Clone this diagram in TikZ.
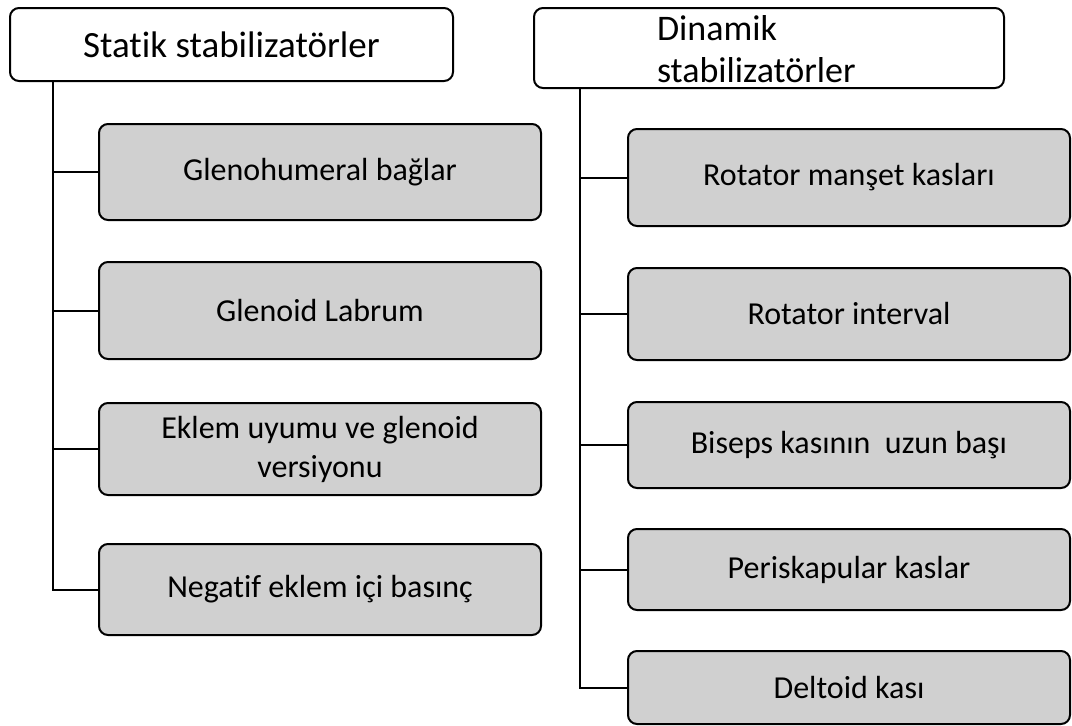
\documentclass[tikz,border=0pt]{standalone}
\usepackage{fontspec}
\setmainfont{Carlito}[Ligatures={NoCommon,NoContextual}]
\usetikzlibrary{positioning}

\definecolor{boxgray}{RGB}{208,208,208}

\begin{document}
\begin{tikzpicture}[x=1pt, y=-1pt, line width=2pt,
    headbox/.style={draw, rounded corners=9pt, fill=white, inner sep=0pt,
      font=\fontsize{37}{44}\selectfont},
    itembox/.style={draw, rounded corners=9pt, fill=boxgray, inner sep=0pt,
      align=center, minimum width=442pt, font=\fontsize{32}{39}\selectfont}]

        \useasboundingbox (0,0) rectangle (1072,726);

        % Headers
        \node[headbox, minimum width=443pt, minimum height=73pt] (statik) at (231.5,44.5) {Statik stabilizatörler};
        \node[headbox, minimum width=470pt, minimum height=80pt] (dinamik) at (769,48) {};
        \node[anchor=west, align=left, inner sep=0pt, font=\fontsize{36}{42}\selectfont] (dinamiktxt) at (656,49) {Dinamik\\stabilizatörler};

        % Static items
        \node[itembox, minimum height=96pt] (gleno) at (320,172) {Glenohumeral bağlar};
        \node[itembox, minimum height=97pt] (labrum) at (320,310.5) {Glenoid Labrum};
        \node[itembox, minimum height=92pt] (eklem) at (320,449) {Eklem uyumu ve glenoid\\versiyonu};
        \node[itembox, minimum height=91pt] (negatif) at (320,589.5) {Negatif eklem içi basınç};

        % Dynamic items
        \node[itembox, minimum height=97pt] (rotator) at (849,177.5) {Rotator manşet kasları};
        \node[itembox, minimum height=92pt] (interval) at (849,314) {Rotator interval};
        \node[itembox, minimum height=86pt] (biseps) at (849,445) {Biseps kasının\ \ uzun başı};
        \node[itembox, minimum height=81pt] (periskap) at (849,569.5) {Periskapular kaslar};
        \node[itembox, minimum height=73pt] (deltoid) at (849,687.5) {Deltoid kası};

        % Lines from headers to items
        \draw ([xshift=44pt]statik.south west) |- (gleno.west);
        \draw ([xshift=44pt]statik.south west) |- (labrum.west);
        \draw ([xshift=44pt]statik.south west) |- (eklem.west);
        \draw ([xshift=44pt]statik.south west) |- (negatif.west);

        \draw ([xshift=47pt]dinamik.south west) |- (rotator.west);
        \draw ([xshift=47pt]dinamik.south west) |- (interval.west);
        \draw ([xshift=47pt]dinamik.south west) |- (biseps.west);
        \draw ([xshift=47pt]dinamik.south west) |- (periskap.west);
        \draw ([xshift=47pt]dinamik.south west) |- (deltoid.west);

      \end{tikzpicture}
\end{document}
